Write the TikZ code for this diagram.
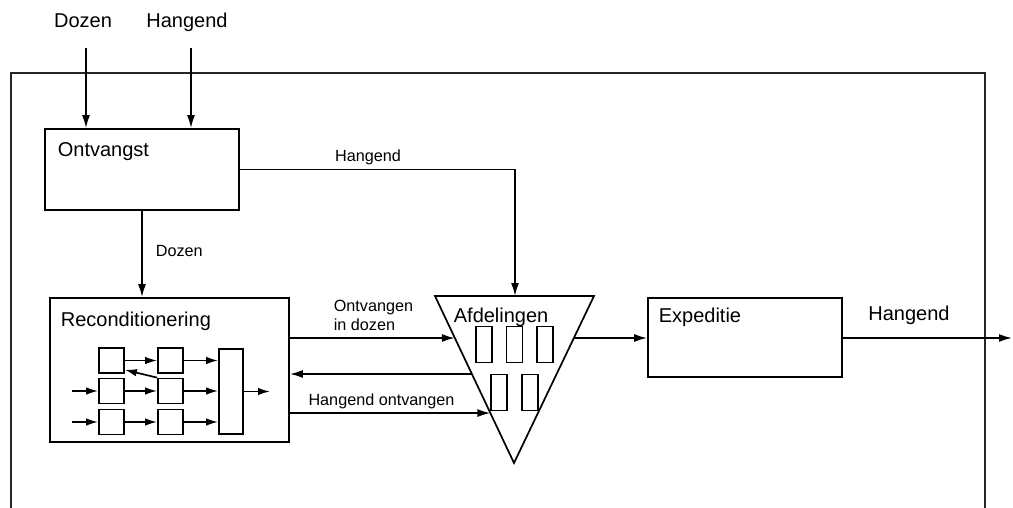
\documentclass[tikz,border=0pt]{standalone}
\usepackage{fontspec}
\setmainfont{Liberation Sans}
\usetikzlibrary{arrows.meta,calc}
\begin{document}
\begin{tikzpicture}[x=1pt,y=-1pt,
  line width=1.7pt,
  box/.style={draw, line width=1.7pt, inner sep=0pt},
  arr/.style={-{Latex[length=13pt,width=8pt]}},
  sarr/.style={-{Latex[length=12pt,width=7.5pt]}},
  bigtxt/.style={font=\fontsize{20}{23}\selectfont, inner sep=0pt},
  smalltxt/.style={font=\fontsize{16.2}{19.5}\selectfont, inner sep=0pt},
  frame/.style={draw=black!85, line width=1.3pt}
]
\useasboundingbox (0,0) rectangle (1013,508);

% outer frame
\draw[frame] (11,508) -- (11,73) -- (985,73) -- (985,508);

% main boxes
\node[box, minimum width=194pt, minimum height=81pt] (ont) at (142,169.5) {};
\node[box, minimum width=239pt, minimum height=144pt] (rec) at (169.5,370) {};
\node[box, minimum width=194pt, minimum height=79pt] (exp) at (745,337.5) {};

% triangle (Afdelingen)
\coordinate (tl) at (435,296);
\coordinate (tr) at (594,296);
\coordinate (tb) at (514,463);
\draw[line join=miter] (tl) -- (tr) -- (tb) -- cycle;
\path (tl) -- (tb) coordinate[pos=0.2515] (l1) coordinate[pos=0.467] (l2) coordinate[pos=0.701] (l3);
\path (tr) -- (tb) coordinate[pos=0.2515] (r1);
\coordinate (ttop) at (515,296);

% labels in boxes
\node[bigtxt, anchor=base west] (tont) at (57,157) {Ontvangst};
\node[bigtxt, anchor=base west] (trec) at (60,326) {Reconditionering};
\node[bigtxt, anchor=base west] (tafd) at (453,322) {Afdelingen};
\node[bigtxt, anchor=base west] (texp) at (658,322) {Expeditie};

% compartments in triangle
\foreach \n/\x/\y in {a1/484/344.5, a2/514.5/344.5, a3/545/344.5, a4/499/392.5, a5/530/392.5}
  \node[box, minimum width=16pt, minimum height=36pt] (\n) at (\x,\y) {};

% inner network in Reconditionering
\node[box, minimum width=25pt, minimum height=25pt] (b11) at (111.5,360.5) {};
\node[box, minimum width=25pt, minimum height=25pt] (b12) at (170.5,360.5) {};
\node[box, minimum width=25pt, minimum height=25pt] (b21) at (111.5,391) {};
\node[box, minimum width=25pt, minimum height=25pt] (b22) at (170.5,391) {};
\node[box, minimum width=25pt, minimum height=25pt] (b31) at (111.5,422) {};
\node[box, minimum width=25pt, minimum height=25pt] (b32) at (170.5,422) {};
\node[box, minimum width=24pt, minimum height=85pt] (bb) at (231,391.5) {};
\coordinate (i2) at (72,391);
\coordinate (i3) at (72,422);
\coordinate (o1) at (270,391.5);

\draw[sarr] (b11) -- (b12);
\draw[sarr] (b21) -- (b22);
\draw[sarr] (b31) -- (b32);
\draw[sarr] (b12.east) -- (b12.east -| bb.west);
\draw[sarr] (b22.east) -- (b22.east -| bb.west);
\draw[sarr] (b32.east) -- (b32.east -| bb.west);
\draw[sarr] (i2) -- (b21.west);
\draw[sarr] (i3) -- (b31.west);
\draw[sarr] (bb.east |- o1) -- (o1);
\draw[sarr] (b22.north west) -- ($(b11.south east)+(0,-4)$);

% external inputs
\coordinate (in1) at (86,48);
\coordinate (in2) at (191,48);
\node[bigtxt, anchor=base] (tdoz) at (83,28) {Dozen};
\node[bigtxt, anchor=base] (thang) at (187,28) {Hangend};
\draw[arr] (in1) -- (in1 |- ont.north);
\draw[arr] (in2) -- (in2 |- ont.north);

% Ontvangst -> Afdelingen (Hangend)
\draw[arr] (ont.east) -| (ttop);
\node[smalltxt, anchor=base] (lh) at (368,162) {Hangend};

% Ontvangst -> Reconditionering (Dozen)
\draw[arr] (ont.south) -- (ont.south |- rec.north);
\node[smalltxt, anchor=base west] (ld) at (155,256) {Dozen};

% Reconditionering <-> Afdelingen
\draw[arr] (rec.east |- l1) -- (l1);
\draw[arr] (l2) -- (rec.east |- l2);
\draw[arr] (rec.east |- l3) -- (l3);
\node[smalltxt, anchor=base west] (lo1) at (333,311) {Ontvangen};
\node[smalltxt, anchor=base west] (lo2) at (333,330) {in dozen};
\node[smalltxt, anchor=base] (lho) at (381.5,405) {Hangend ontvangen};

% Afdelingen -> Expeditie
\draw[arr] (r1) -- (r1 -| exp.west);

% Expeditie -> out
\coordinate (out) at (1012,338);
\draw[arr] (exp.east |- out) -- (out);
\node[bigtxt, anchor=base] (lout) at (909,320) {Hangend};
\end{tikzpicture}
\end{document}
